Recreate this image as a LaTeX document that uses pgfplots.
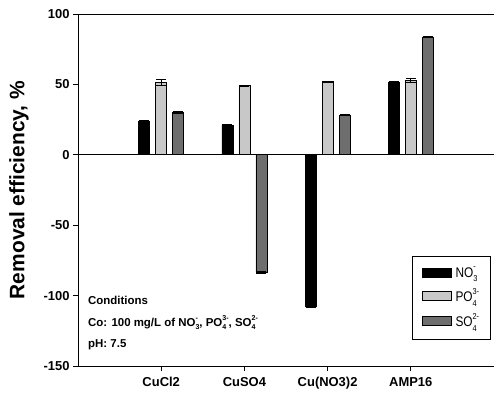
\documentclass[border=0pt]{standalone}
\usepackage{fontspec}
\setmainfont{Liberation Sans}
\newfontfamily\narrowfont{Liberation Sans}[FakeStretch=0.85]
\usepackage{pgfplots}
\pgfplotsset{compat=1.18}
\definecolor{lgray}{HTML}{C8C8C8}
\definecolor{dgray}{HTML}{6E6E6E}
\newcommand\ion[3]{#1\setbox0\hbox{\raisebox{-0.32em}{\fontsize{0.62em}{0.7em}\selectfont #2}}\setbox2\hbox{\raisebox{0.52em}{\fontsize{0.62em}{0.7em}\selectfont #3}}\ifdim\wd0>\wd2 \rlap{\box2}\box0 \else \rlap{\box0}\box2\fi}
\begin{document}
\begin{tikzpicture}
\begin{axis}[
 at={(78bp,34bp)}, anchor=south west,
 scale only axis, width=416bp, height=352bp,
 xmin=0, xmax=5, ymin=-150, ymax=100,
 axis lines*=left,
 axis line style={line width=0.9pt},
 xtick={1,2,3,4}, xticklabels={CuCl2,CuSO4,Cu(NO3)2,AMP16},
 ytick={-150,-100,...,100},
 tick align=outside, major tick length=5bp,
 tick style={black, line width=0.9pt},
 x tick label style={font=\bfseries\fontsize{13}{15}\selectfont, yshift=-3bp},
 y tick label style={font=\bfseries\fontsize{13}{15}\selectfont},
 /pgf/number format/assume math mode=true,
 ylabel={Removal efficiency, \%},
 ylabel style={font=\bfseries\fontsize{21}{24}\selectfont, yshift=8bp},
 ybar, bar width=11bp,
 legend cell align=left,
 legend style={at={(0.992,0.313)}, anchor=north east, draw=black, line width=1pt,
   font=\narrowfont\fontsize{14}{16}\selectfont, row sep=6bp, inner xsep=9bp, inner ysep=9bp},
 legend image code/.code={\draw[#1, line width=0.8pt] (0bp,-4.8bp) rectangle (29bp,4.8bp); \path (31bp,0bp);},
 error bars/y dir=both, error bars/y explicit,
 error bars/error mark options={rotate=90, mark size=5bp, line width=1pt},
 error bars/error bar style={line width=1pt},
]
\addplot[fill=black, draw=black, line width=0.8pt, bar shift=-17bp] coordinates {
 (1,24) +- (0,0.3) (2,21) +- (0,0.3) (3,-107.5) +- (0,0.8) (4,51.5) +- (0,0.3)};
\addlegendentry{\ion{NO}{3}{-}}
\addplot[fill=lgray, draw=black, line width=0.8pt, bar shift=0bp] coordinates {
 (1,51.5) +- (0,2.2) (2,49) +- (0,0.5) (3,52) +- (0,0.4) (4,53) +- (0,1.5)};
\addlegendentry{\ion{PO}{4}{3-}}
\addplot[fill=dgray, draw=black, line width=0.8pt, bar shift=17bp] coordinates {
 (1,30) +- (0,0.6) (2,-83.5) +- (0,0.8) (3,28) +- (0,0.4) (4,83.5) +- (0,0.5)};
\addlegendentry{\ion{SO}{4}{2-}}
\draw[line width=0.9pt] (rel axis cs:0,1) -- (rel axis cs:1,1);
\draw[line width=0.9pt] (axis cs:0,0) -- (axis cs:5,0);
\node[anchor=north west, align=left, inner sep=0pt, font=\bfseries\fontsize{11.5}{22}\selectfont]
 at (rel axis cs:0.024,0.2) {Conditions\\Co: 100 mg/L of \ion{NO}{3}{-}, \ion{PO}{4}{3-}, \ion{SO}{4}{2-}\\pH: 7.5};
\end{axis}
\pgfresetboundingbox
\useasboundingbox (0,0) rectangle (494bp,400bp);
\end{tikzpicture}
\end{document}
